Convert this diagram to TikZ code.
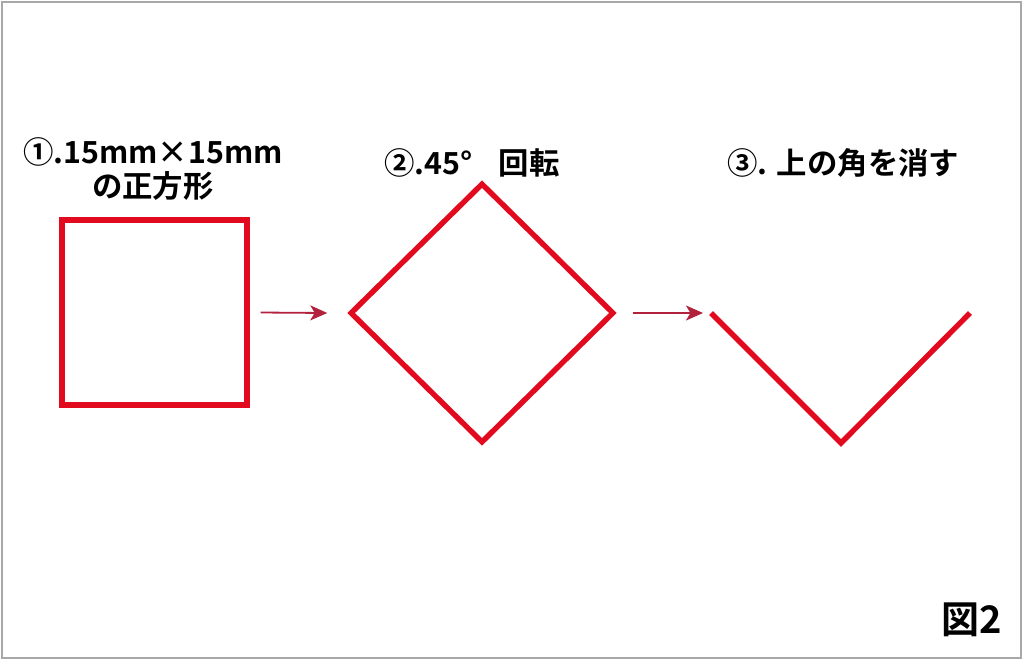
\documentclass[tikz,border=0pt]{standalone}
\usepackage{fontspec}
\usepackage{tikz}
\usepackage{xcolor}
\usetikzlibrary{shapes}
\usetikzlibrary{shapes.geometric}
\usetikzlibrary{positioning}
\usetikzlibrary{arrows.meta}
\newfontfamily\jpfont{Noto Sans CJK JP}[UprightFont=* Bold]
\definecolor{figred}{HTML}{E10A1E}
\definecolor{arrowred}{HTML}{B2223C}
\definecolor{framegray}{HTML}{A8A8A8}

\begin{document}
\begin{tikzpicture}[x=0.5pt,y=-0.5pt]
        \tikzstyle{shapeline}=[draw=figred,line width=2.7pt,inner sep=0pt]
        \tikzstyle{step arrow}=[draw=arrowred,line width=0.9pt,-{Stealth[length=8.5pt,width=7.5pt,inset=2.2pt]}]
        \tikzstyle{caption}=[font=\jpfont\fontsize{15.2}{17}\selectfont,inner sep=0pt,align=center]
        \useasboundingbox (0,0) rectangle (1024,661);
        \draw[framegray,line width=1pt] (2,2) rectangle (1021,658);
       \begin{scope}
         % shapes
         \node [shapeline,rectangle,minimum size=92.5pt] (sq) at (154.5,312.5) {};
         \node [shapeline,diamond,aspect=1,minimum width=132pt,minimum height=130pt] (dia) at (482,313) {};
         \coordinate (vl) at (711,313);
         \coordinate (vb) at (841,443);
         \coordinate (vr) at (970,313);
         \draw [draw=figred,line width=2.7pt] (vl) -- (vb) -- (vr);
         % arrows
         \path[step arrow] ([xshift=5.5pt]sq.east) -- ([xshift=-10pt]dia.west);
         \path[step arrow] ([xshift=8pt]dia.east) -- ([xshift=-4pt]vl);
         % labels
         \node [caption] (t1) at (153,169) {①.15mm×15mm\\の正方形};
         \node [caption,anchor=west] (t2) at (384,163) {②.45°\hspace{13pt}回転};
         \node [caption,anchor=west] (t3) at (727,163) {③. 上の角を消す};
         \node [caption,font=\jpfont\fontsize{19}{20}\selectfont] (fig) at (972,620) {図2};
        \end{scope}
      \end{tikzpicture}
\end{document}
